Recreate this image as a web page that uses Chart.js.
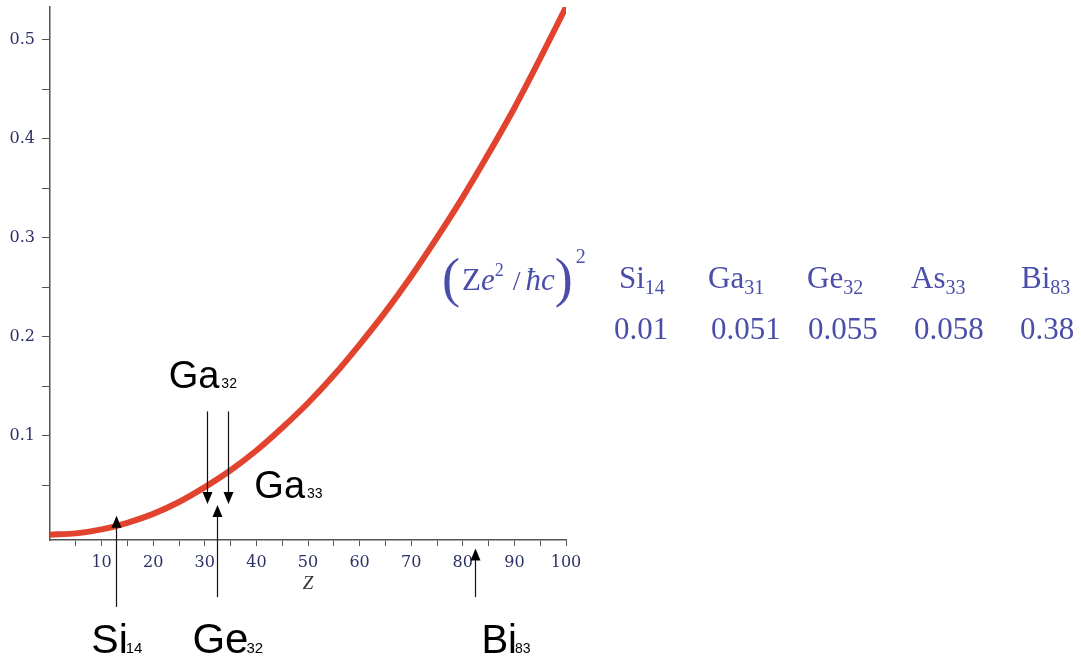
<!DOCTYPE html>
<html>
<head>
<meta charset="utf-8">
<script src="https://cdn.jsdelivr.net/npm/chart.js@4.4.1/dist/chart.umd.min.js"></script>
<style>
  html, body { margin: 0; padding: 0; background: #fff; }
  #wrap { width: 1081px; height: 659px; }
</style>
</head>
<body>
<div id="wrap"><canvas id="canvas" width="1081" height="659"></canvas></div>
<script>
// curve values (Z -> (Ze^2/hc)^2)
const zValues = [0, 5, 10, 15, 20, 25, 30, 35, 40, 45, 50, 55, 60, 65, 70, 75, 80, 85, 90, 95, 100];
const couplingValues = [0, 0.0013, 0.0053, 0.012, 0.021, 0.033, 0.048, 0.065, 0.085, 0.108, 0.133, 0.161, 0.192, 0.225, 0.261, 0.300, 0.341, 0.385, 0.431, 0.481, 0.533];

// tick marks
const xTicks = [5, 10, 15, 20, 25, 30, 35, 40, 45, 50, 55, 60, 65, 70, 75, 80, 85, 90, 95, 100];
const xTickLabels = ['', '10', '', '20', '', '30', '', '40', '', '50', '', '60', '', '70', '', '80', '', '90', '', '100'];
const yTicks = [0.05, 0.1, 0.15, 0.2, 0.25, 0.3, 0.35, 0.4, 0.45, 0.5];
const yTickLabels = ['', '0.1', '', '0.2', '', '0.3', '', '0.4', '', '0.5'];

// table on the right
const elements = ['Si', 'Ga', 'Ge', 'As', 'Bi'];
const elementZ = ['14', '31', '32', '33', '83'];
const elementCoupling = ['0.01', '0.051', '0.055', '0.058', '0.38'];

// arrows under / over the curve (Z, from value, to value)
const upArrowZ = [12.8, 32.4, 82.4];
const upArrowFrom = [-0.073, -0.063, -0.063];
const upArrowTo = [0.019, 0.030, -0.014];
const downArrowZ = [30.5, 34.4];
const downArrowFrom = [0.1245, 0.1245];
const downArrowTo = [0.031, 0.031];

// big black labels (name, sub, Z, value of baseline)
const labelNames = ['Si', 'Ge', 'Bi', 'Ga', 'Ga'];
const labelSubs = ['14', '32', '83', '32', '33'];
const labelZ = [8.0, 27.6, 83.6, 23, 39.6];
const labelY = [-0.12, -0.12, -0.12, 0.148, 0.037];
const labelSize = [41, 42, 40, 38, 38];
const labelGap = [-2, -2, -2, 2, 2];

const AXIS_COLOR = '#555';
const TICK_FONT_COLOR = '#2c3068';
const CURVE_COLOR = '#e2432e';
const TABLE_COLOR = '#4a4ea8';
const SERIF = '"Liberation Serif", "Times New Roman", serif';

function drawRich(ctx, x, y, parts) {
    for (const p of parts) {
        ctx.font = p.font;
        ctx.fillText(p.t, x, y + (p.dy || 0));
        x += ctx.measureText(p.t).width + (p.gap || 0);
    }
    return x;
}

function arrow(ctx, x, y1, y2) {
    const dir = y2 < y1 ? -1 : 1;
    ctx.beginPath();
    ctx.moveTo(x, y1);
    ctx.lineTo(x, y2 - dir * 9);
    ctx.stroke();
    ctx.beginPath();
    ctx.moveTo(x, y2);
    ctx.lineTo(x - 5, y2 - dir * 12);
    ctx.lineTo(x + 5, y2 - dir * 12);
    ctx.closePath();
    ctx.fill();
}

const annotations = {
    id: 'annotations',
    afterDraw(chart) {
        const ctx = chart.ctx;
        const xs = chart.scales.x;
        const ys = chart.scales.y;
        ctx.save();

        // arrows
        ctx.strokeStyle = '#111';
        ctx.fillStyle = '#000';
        ctx.lineWidth = 1.2;
        upArrowZ.forEach((z, i) => {
            arrow(ctx, Math.round(xs.getPixelForValue(z)) + 0.5, ys.getPixelForValue(upArrowFrom[i]), ys.getPixelForValue(upArrowTo[i]));
        });
        downArrowZ.forEach((z, i) => {
            arrow(ctx, Math.round(xs.getPixelForValue(z)) + 0.5, ys.getPixelForValue(downArrowFrom[i]), ys.getPixelForValue(downArrowTo[i]));
        });

        // element labels
        ctx.textBaseline = 'alphabetic';
        ctx.textAlign = 'left';
        labelNames.forEach((name, i) => {
            const size = labelSize[i];
            drawRich(ctx, xs.getPixelForValue(labelZ[i]), ys.getPixelForValue(labelY[i]), [
                { t: name, font: size + 'px "Liberation Sans", Arial, sans-serif', gap: labelGap[i] },
                { t: labelSubs[i], font: Math.round(size * 0.36) + 'px "Liberation Sans", Arial, sans-serif' }
            ]);
        });

        // formula + table
        ctx.fillStyle = TABLE_COLOR;
        let x = 442;
        x = drawRich(ctx, x, 296, [{ t: '(', font: '54px ' + SERIF, gap: 2 }]);
        x = drawRich(ctx, x, 290, [
            { t: 'Z', font: '31px ' + SERIF },
            { t: 'e', font: 'italic 31px ' + SERIF },
            { t: '2', font: '18px ' + SERIF, dy: -14, gap: 9 },
            { t: '/', font: '28px ' + SERIF, gap: 5 },
            { t: 'ħc', font: 'italic 31px ' + SERIF, gap: 0 }
        ]);
        x = drawRich(ctx, x, 296, [{ t: ')', font: '54px ' + SERIF, gap: 3 }]);
        drawRich(ctx, x, 263, [{ t: '2', font: '20px ' + SERIF }]);

        const colX = [619, 708, 807, 911, 1021];
        const valX = [614, 711, 808, 914, 1020];
        elements.forEach((el, i) => {
            drawRich(ctx, colX[i], 288, [
                { t: el, font: '31px ' + SERIF },
                { t: elementZ[i], font: '20px ' + SERIF, dy: 6 }
            ]);
            drawRich(ctx, valX[i], 339, [{ t: elementCoupling[i], font: '31px ' + SERIF }]);
        });
        ctx.restore();
    }
};

const points = zValues.map((z, i) => ({ x: z, y: couplingValues[i] }));

const config = {
    type: 'line',
    data: {
        datasets: [{
            data: points,
            borderColor: CURVE_COLOR,
            borderWidth: 6,
            pointRadius: 0,
            fill: false,
            cubicInterpolationMode: 'monotone',
            borderCapStyle: 'butt'
        }]
    },
    options: {
        responsive: false,
        animation: false,
        layout: { padding: { left: 0, right: 515, top: 7, bottom: 64 } },
        plugins: { legend: { display: false }, tooltip: { enabled: false } },
        scales: {
            x: {
                type: 'linear',
                min: 0,
                max: 100,
                afterBuildTicks: s => { s.ticks = xTicks.map(v => ({ value: v })); },
                afterFit: s => { s.height = 55; s.paddingLeft = 0; s.paddingRight = 0; },
                ticks: {
                    autoSkip: false,
                    maxRotation: 0,
                    padding: 7,
                    color: TICK_FONT_COLOR,
                    font: { family: '"DejaVu Serif", serif', size: 16 },
                    callback: (v, i) => xTickLabels[i]
                },
                grid: { drawOnChartArea: false, drawTicks: true, tickLength: 6, color: AXIS_COLOR, tickColor: AXIS_COLOR },
                border: { display: true, color: AXIS_COLOR, width: 1.5 },
                title: {
                    display: true,
                    text: 'Z',
                    color: '#333',
                    padding: { top: 0, bottom: 0 },
                    font: { family: SERIF, size: 19, style: 'italic' }
                }
            },
            y: {
                type: 'linear',
                min: -0.0054,
                max: 0.533,
                afterBuildTicks: s => { s.ticks = yTicks.map(v => ({ value: v })); },
                afterFit: s => { s.width = 50; s.paddingTop = 0; s.paddingBottom = 0; },
                ticks: {
                    autoSkip: false,
                    padding: 7,
                    color: TICK_FONT_COLOR,
                    font: { family: '"DejaVu Serif", serif', size: 16 },
                    callback: (v, i) => yTickLabels[i]
                },
                grid: { drawOnChartArea: false, drawTicks: true, tickLength: 8, color: AXIS_COLOR, tickColor: AXIS_COLOR },
                border: { display: true, color: AXIS_COLOR, width: 1.5 }
            }
        }
    },
    plugins: [annotations]
};

const chart = new Chart(document.getElementById('canvas').getContext('2d'), config);
</script>
</body>
</html>
